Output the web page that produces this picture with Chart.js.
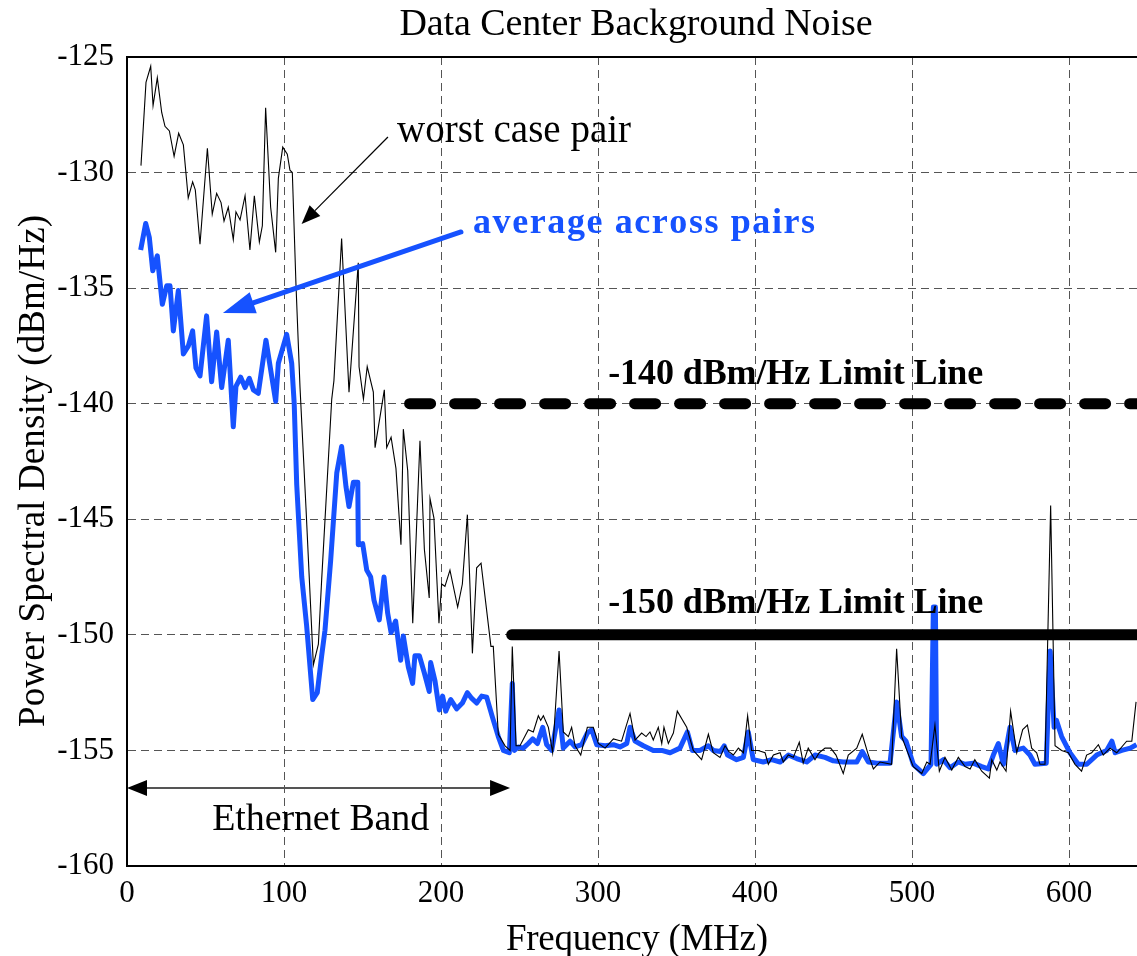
<!DOCTYPE html>
<html><head><meta charset="utf-8">
<script src="https://cdn.jsdelivr.net/npm/chart.js@4.4.1/dist/chart.umd.min.js"></script>
<style>html,body{margin:0;padding:0;background:#fff;}canvas{display:block;}</style>
</head><body>
<canvas id="c" width="1137" height="956"></canvas>
<script>
// ---- data (MHz, dBm/Hz) ----
const worstFreq = [8.9,12.1,15.1,16.6,19.3,22.1,24.2,27.0,30.0,32.9,35.9,39.0,41.8,43.5,46.5,51.2,54.3,57.1,59.9,61.8,64.5,67.7,69.4,72.0,75.2,78.3,81.1,84.3,86.2,88.3,91.5,94.7,96.4,99.2,102.1,103.8,105.3,107.6,110.2,114.0,118.7,121.9,124.0,130.4,131.8,136.7,141.4,147.3,147.8,150.6,153.0,156.9,158.0,163.9,165.4,168.2,171.3,174.5,176.0,178.8,182.0,186.6,189.4,192.5,193.0,195.5,198.7,200.4,202.5,205.7,210.6,213.6,216.8,220.0,222.7,225.5,231.8,233.3,236.5,240.8,244.0,245.4,247.8,250.3,255.6,258.8,262.0,263.5,265.2,268.4,271.1,275.2,277.9,281.1,283.2,285.4,289.0,293.2,297.0,300.2,304.5,309.8,315.0,320.4,323.6,327.8,330.6,333.1,335.2,338.4,340.6,342.0,344.8,348.0,350.5,356.5,360.7,366.0,370.3,373.4,377.7,380.9,383.4,386.2,389.4,392.6,395.3,397.8,402.0,406.4,408.5,411.7,416.0,418.0,421.2,424.4,428.2,430.7,433.9,438.2,440.9,444.6,448.2,451.6,456.2,459.4,464.8,468.3,472.2,475.4,479.6,487.0,490.2,493.4,496.2,500.8,506.2,509.4,511.5,514.6,517.4,521.0,525.3,529.5,533.8,537.0,540.0,544.4,549.3,550.8,554.0,556.0,559.9,562.8,566.7,570.5,573.5,576.2,579.4,581.5,584.7,588.3,591.1,595.3,599.6,603.8,608.0,611.2,614.4,618.7,621.8,626.1,630.4,636.7,640.0,642.7];
const worstPSD = [-129.7,-126.1,-125.4,-127.1,-125.9,-127.4,-128.0,-128.2,-129.3,-128.3,-128.8,-131.1,-130.4,-130.75,-133.1,-128.95,-131.8,-130.9,-131.3,-132.1,-131.5,-132.9,-131.7,-132.05,-131.0,-133.35,-131.0,-133.0,-132.3,-127.2,-131.5,-133.45,-130.25,-128.9,-129.2,-129.9,-130.0,-134.8,-139.3,-144.5,-151.3,-150.4,-147.6,-139.8,-139.0,-132.85,-139.5,-133.9,-138.4,-139.8,-138.4,-139.5,-141.9,-139.4,-141.9,-141.45,-142.8,-146.1,-141.1,-142.9,-149.5,-141.6,-146.3,-148.4,-144.1,-144.95,-149.5,-147.8,-147.9,-147.2,-148.8,-147.8,-144.8,-150.8,-147.1,-146.9,-150.5,-150.5,-154.3,-154.8,-155.0,-150.5,-154.8,-154.8,-154.1,-154.2,-153.5,-153.7,-153.5,-154.0,-155.1,-150.7,-154.2,-154.4,-154.0,-154.8,-155.2,-154.0,-154.0,-154.7,-154.9,-154.5,-154.6,-153.4,-154.55,-154.25,-154.4,-154.2,-154.55,-154.0,-154.7,-154.0,-154.7,-154.25,-153.3,-154.0,-155.0,-155.4,-154.3,-155.1,-155.3,-154.8,-155.05,-155.2,-154.9,-155.1,-153.5,-155.0,-155.0,-155.1,-155.6,-155.2,-155.1,-155.5,-155.2,-155.3,-154.65,-155.55,-154.9,-155.4,-155.1,-154.9,-154.9,-155.2,-156.0,-155.2,-154.9,-154.3,-155.2,-155.8,-155.5,-155.6,-150.6,-154.4,-154.9,-155.7,-156.0,-155.5,-155.6,-153.9,-155.9,-155.3,-155.85,-155.3,-155.7,-155.8,-155.4,-155.9,-156.2,-155.4,-155.85,-155.5,-155.9,-153.3,-155.1,-154.1,-153.9,-154.9,-155.1,-155.6,-155.6,-144.4,-154.8,-155.0,-155.1,-155.6,-155.9,-155.2,-155.1,-154.75,-155.2,-154.9,-155.1,-154.6,-154.6,-152.9];

const avgFreq = [8.7,11.9,14.2,16.4,19.3,22.5,25.3,27.4,29.5,32.7,35.9,39.1,41.8,43.9,46.5,50.7,53.9,57.1,60.3,64.5,67.7,69.4,72.4,75.2,77.9,80.5,83.6,88.5,94.7,96.4,101.7,104.9,106.5,108.1,111.3,114.4,118.3,121.2,124.0,126.1,129.7,133.6,136.7,139.5,141.4,144.2,147.0,147.3,150.1,152.7,155.2,157.3,160.7,163.7,166.0,168.2,171.1,174.3,176.0,179.2,181.9,183.4,186.2,189.4,192.5,193.4,196.2,198.9,201.0,203.0,206.2,210.0,213.6,216.8,219.6,222.7,225.9,229.1,232.7,236.5,239.7,243.5,245.4,246.7,249.2,252.4,255.6,258.4,261.4,264.8,267.3,270.5,275.2,277.9,282.2,285.4,289.6,293.2,296.0,299.2,304.5,309.8,314.0,318.3,320.4,323.6,328.9,335.2,340.6,345.9,352.2,356.9,360.1,365.0,370.3,373.4,378.0,380.4,382.5,388.3,392.6,395.7,398.9,405.3,410.6,416.0,421.2,426.5,432.9,438.2,444.6,449.9,456.2,464.8,468.3,472.2,477.5,486.0,490.2,493.4,496.2,500.8,507.2,512.1,513.6,514.9,515.7,519.9,524.2,529.5,533.8,539.0,544.4,548.6,551.8,555.0,558.2,562.4,565.6,570.9,575.1,578.3,585.5,588.0,590.5,592.0,595.3,600.6,605.9,611.3,617.6,624.0,627.3,629.4,633.6,639.0,643.0];
const avgPSD = [-133.35,-132.2,-132.8,-134.25,-133.6,-135.7,-134.9,-134.9,-136.85,-135.1,-137.85,-137.5,-136.85,-138.45,-138.8,-136.2,-139.05,-136.9,-139.3,-137.25,-141.0,-139.25,-138.85,-139.3,-138.9,-139.4,-139.55,-137.25,-139.9,-138.25,-137.0,-138.25,-140.0,-143.5,-147.5,-149.6,-152.8,-152.5,-150.9,-149.8,-146.8,-143.0,-141.85,-143.6,-144.45,-143.4,-143.4,-146.1,-146.05,-147.2,-147.5,-148.5,-149.35,-147.5,-149.05,-149.9,-149.4,-151.1,-150.05,-151.4,-152.1,-150.9,-150.9,-151.65,-152.45,-151.2,-152.0,-153.25,-152.65,-153.3,-152.8,-153.2,-152.95,-152.5,-152.75,-152.95,-152.65,-152.7,-153.55,-154.4,-155.0,-155.1,-152.1,-155.0,-154.85,-154.9,-154.7,-154.5,-154.7,-154.0,-154.75,-155.0,-153.25,-154.9,-154.6,-154.85,-154.75,-154.25,-154.1,-154.75,-154.8,-154.75,-154.85,-154.7,-154.0,-154.6,-154.8,-155.0,-155.0,-155.1,-154.9,-154.2,-155.0,-155.0,-154.8,-155.0,-155.05,-154.8,-155.2,-155.4,-155.3,-154.2,-155.4,-155.5,-155.4,-155.5,-155.2,-155.35,-155.5,-155.2,-155.3,-155.45,-155.5,-155.5,-155.05,-155.5,-155.55,-155.55,-152.9,-154.4,-154.6,-155.6,-156.0,-155.6,-148.8,-148.8,-155.6,-155.4,-155.75,-155.5,-155.6,-155.55,-155.7,-155.8,-155.2,-154.7,-155.6,-154.0,-155.0,-154.9,-155.2,-155.6,-155.55,-150.7,-154.0,-153.7,-154.4,-155.1,-155.6,-155.6,-155.2,-155.0,-154.6,-155.1,-155.0,-154.9,-154.75];

const limit140Freq = [180, 643.3];
const limit140PSD = [-140, -140];
const limit150Freq = [245, 643.3];
const limit150PSD = [-150, -150];

const xTickValues = [0, 100, 200, 300, 400, 500, 600];
const yTickValues = [-160, -155, -150, -145, -140, -135, -130, -125];
const xRange = [0, 643.3];
const yRange = [-160, -125];

const chartTitle = 'Data Center Background Noise';
const xTitle = 'Frequency (MHz)';
const yTitle = 'Power Spectral Density (dBm/Hz)';
const worstLabel = 'worst case pair';
const avgLabel = 'average across pairs';
const limit140Label = '-140 dBm/Hz Limit Line';
const limit150Label = '-150 dBm/Hz Limit Line';
const bandLabel = 'Ethernet Band';

// ---- drawing ----
const BLUE = '#1652ff';
const SERIF = '"Liberation Serif", "Times New Roman", serif';
const toPts = (xs, ys) => xs.map((x, i) => ({x: x, y: ys[i]}));

function spacedText(ctx, str, x, y, width, align) {
  const chars = Array.from(str);
  const ws = chars.map(c => ctx.measureText(c).width);
  const nat = ws.reduce((a, b) => a + b, 0);
  const sp = chars.length > 1 ? (width - nat) / (chars.length - 1) : 0;
  let cx = align === 'center' ? x - width / 2 : x;
  ctx.textAlign = 'left';
  chars.forEach((c, i) => { ctx.fillText(c, cx, y); cx += ws[i] + sp; });
}

function arrowHead(ctx, x1, y1, x2, y2, len, wid) {
  const a = Math.atan2(y2 - y1, x2 - x1);
  const bx = x2 - len * Math.cos(a), by = y2 - len * Math.sin(a);
  const nx = -Math.sin(a) * wid / 2, ny = Math.cos(a) * wid / 2;
  ctx.beginPath();
  ctx.moveTo(x2, y2);
  ctx.lineTo(bx + nx, by + ny);
  ctx.lineTo(bx - nx, by - ny);
  ctx.closePath();
  ctx.fill();
  return [bx, by];
}

const annotations = {
  id: 'annotations',
  afterDatasetsDraw(chart) {
    const {ctx, chartArea: ca} = chart;
    const xs = chart.scales.x, ys = chart.scales.y;
    const X = v => xs.getPixelForValue(v), Y = v => ys.getPixelForValue(v);
    ctx.save();
    // top frame line
    ctx.strokeStyle = '#000'; ctx.lineWidth = 2;
    ctx.beginPath(); ctx.moveTo(ca.left, ca.top); ctx.lineTo(ca.right, ca.top); ctx.stroke();

    // worst case arrow
    ctx.fillStyle = '#000'; ctx.strokeStyle = '#000'; ctx.lineWidth = 1.2;
    let p1 = [X(166.2), Y(-128.46)], p2 = [X(111.2), Y(-132.23)];
    let b = arrowHead(ctx, p1[0], p1[1], p2[0], p2[1], 19, 15);
    ctx.beginPath(); ctx.moveTo(p1[0], p1[1]); ctx.lineTo(b[0], b[1]); ctx.stroke();

    // average arrow
    ctx.fillStyle = BLUE; ctx.strokeStyle = BLUE; ctx.lineWidth = 5; ctx.lineCap = 'round';
    p1 = [X(212.7), Y(-132.57)]; p2 = [X(61.1), Y(-136.08)];
    b = arrowHead(ctx, p1[0], p1[1], p2[0], p2[1], 32, 22);
    ctx.beginPath(); ctx.moveTo(p1[0], p1[1]); ctx.lineTo(b[0], b[1]); ctx.stroke();
    ctx.lineCap = 'butt';

    // Ethernet band double arrow
    const yb = Y(-156.63), xa = X(0), xb = X(244);
    ctx.strokeStyle = '#555'; ctx.lineWidth = 2; ctx.fillStyle = '#000';
    ctx.beginPath(); ctx.moveTo(xa + 18, yb); ctx.lineTo(xb - 18, yb); ctx.stroke();
    arrowHead(ctx, xb - 30, yb, xb, yb, 20, 16);
    arrowHead(ctx, xa + 30, yb, xa, yb, 20, 16);

    // texts
    ctx.textBaseline = 'alphabetic';
    ctx.fillStyle = '#000';
    ctx.font = '39px ' + SERIF;
    spacedText(ctx, worstLabel, X(172.0), Y(-128.69), 234, 'left');
    ctx.font = '38px ' + SERIF;
    spacedText(ctx, bandLabel, X(123.4), Y(-158.44), 217, 'center');
    ctx.font = 'bold 36px ' + SERIF;
    spacedText(ctx, limit140Label, X(306.5), Y(-139.15), 375, 'left');
    spacedText(ctx, limit150Label, X(306.5), Y(-149.05), 375, 'left');
    ctx.fillStyle = BLUE;
    spacedText(ctx, avgLabel, X(220.4), Y(-132.61), 342, 'left');
    ctx.restore();
  },
  afterDraw(chart) {
    const {ctx} = chart;
    ctx.save();
    ctx.fillStyle = '#000';
    ctx.textBaseline = 'alphabetic';
    ctx.font = '38px ' + SERIF;
    spacedText(ctx, chartTitle, 636, 35, 473, 'center');
    ctx.font = '37px ' + SERIF;
    spacedText(ctx, xTitle, 637, 950, 262, 'center');
    ctx.translate(44, 471);
    ctx.rotate(-Math.PI / 2);
    ctx.font = '37px ' + SERIF;
    spacedText(ctx, yTitle, 0, 0, 512, 'center');
    ctx.restore();
  }
};

const tickFont = {family: SERIF, size: 31};
new Chart(document.getElementById('c').getContext('2d'), {
  type: 'line',
  data: {
    datasets: [
      {label: limit150Label, data: toPts(limit150Freq, limit150PSD), borderColor: '#000', borderWidth: 11, borderCapStyle: 'round', order: 0},
      {label: limit140Label, data: toPts(limit140Freq, limit140PSD), borderColor: '#000', borderWidth: 11, borderCapStyle: 'round', borderDash: [21, 24], order: 0},
      {label: worstLabel, data: toPts(worstFreq, worstPSD), borderColor: '#000', borderWidth: 1.1, order: 1},
      {label: avgLabel, data: toPts(avgFreq, avgPSD), borderColor: BLUE, borderWidth: 5, borderJoinStyle: 'round', order: 2}
    ]
  },
  options: {
    responsive: false,
    animation: false,
    devicePixelRatio: 1,
    layout: {padding: {top: 57, right: 0, bottom: 0, left: 0}},
    elements: {line: {tension: 0, fill: false}, point: {radius: 0}},
    plugins: {legend: {display: false}, tooltip: {enabled: false}, title: {display: false}},
    scales: {
      x: {
        type: 'linear', min: xRange[0], max: xRange[1],
        afterBuildTicks: s => { s.ticks = xTickValues.map(v => ({value: v})); },
        afterFit: s => { s.height = 90; },
        ticks: {font: tickFont, color: '#000', padding: 9, maxRotation: 0, autoSkip: false, callback: v => String(v)},
        grid: {color: '#555', lineWidth: 1, drawTicks: false},
        border: {display: true, color: '#000', width: 2, dash: [8, 5]}
      },
      y: {
        type: 'linear', min: yRange[0], max: yRange[1],
        afterBuildTicks: s => { s.ticks = yTickValues.map(v => ({value: v})); },
        afterFit: s => { s.width = 127; },
        ticks: {font: tickFont, color: '#000', padding: 13, autoSkip: false, callback: v => String(v)},
        grid: {color: '#555', lineWidth: 1, drawTicks: false},
        border: {display: true, color: '#000', width: 2, dash: [8, 5]}
      }
    }
  },
  plugins: [annotations]
});
</script>
</body></html>
